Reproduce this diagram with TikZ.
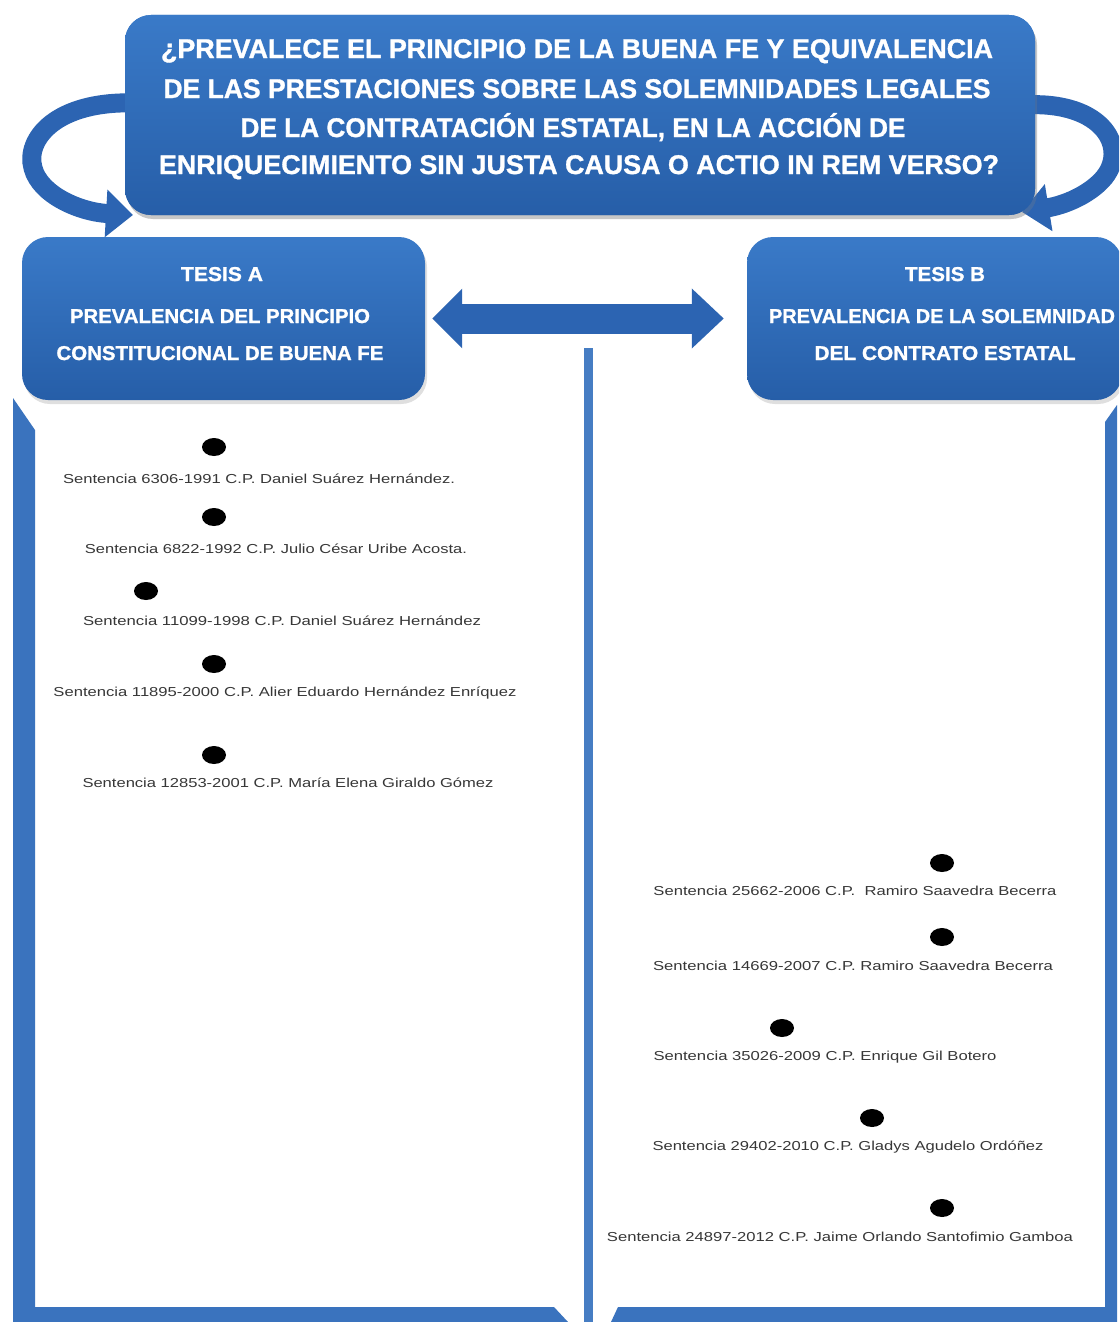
\documentclass[tikz,border=0pt]{standalone}
\usepackage{fontspec}
\setmainfont{Liberation Sans}[BoldFeatures={FakeBold=1.2}]
\usepackage{graphicx}
\usetikzlibrary{arrows.meta,shadows,shapes.geometric}
\definecolor{boxtop}{RGB}{58,122,200}
\definecolor{boxbot}{RGB}{38,94,168}
\definecolor{arrowblue}{RGB}{44,100,178}
\definecolor{lineblue}{RGB}{70,125,195}
\definecolor{stripeblue}{RGB}{58,115,190}
\definecolor{txtgray}{RGB}{55,55,55}
\newcommand{\fitw}[2]{\resizebox{#1}{\height}{#2}}
\begin{document}
\begin{tikzpicture}[x=1pt,y=-1pt,
  bluebox/.style={rectangle, rounded corners=26pt, top color=boxtop, bottom color=boxbot, draw=none,
    drop shadow={opacity=0.25,shadow xshift=2pt,shadow yshift=-4pt}},
  curvearr/.style={draw=arrowblue, line width=19pt, -{Triangle[width=46pt,length=27pt]}},
  dblarr/.style={draw=arrowblue, line width=30pt, {Triangle[width=58pt,length=30pt]}-{Triangle[width=58pt,length=32pt]}},
  midline/.style={draw=lineblue, line width=9pt},
  titletxt/.style={anchor=base, inner sep=0pt, text=white, font=\fontsize{27}{30}\selectfont\bfseries},
  tesistxt/.style={anchor=base, inner sep=0pt, text=white, font=\fontsize{20}{22}\selectfont\bfseries},
  sent/.style={anchor=base, inner sep=0pt, text=txtgray, font=\fontsize{13}{15}\selectfont},
  dot/.style={ellipse, fill=black, minimum width=24pt, minimum height=18pt, inner sep=0pt}]
\path[use as bounding box] (0,0) rectangle (1119,1322);
\clip (0,0) rectangle (1119,1322);
\fill[white] (0,0) rectangle (1119,1322);

% panel frames
\fill[stripeblue] (13,398) -- (35,430) -- (35,1307) -- (554,1307) -- (568,1322) -- (13,1322) -- cycle;
\fill[stripeblue] (611,1322) -- (618,1307) -- (1105,1307) -- (1105,422) -- (1117,405) -- (1117,1322) -- cycle;

% top question box (drawn under the arrows' start)
\node[bluebox, minimum width=910pt, minimum height=200pt] (q) at (580,115) {};

% curved arrows
\coordinate (tipL) at (133,215);
\coordinate (tipR) at (1022,212);
\draw[curvearr] ([shift={(12,-12)}]q.west) .. controls (55,100) and (25,140) .. (33,168) .. controls (40,195) and (80,212) .. (tipL);
\draw[curvearr] ([shift={(-12,-10)}]q.east) .. controls (1105,100) and (1130,150) .. (1102,180) .. controls (1088,195) and (1065,205) .. (tipR);
\node[bluebox, minimum width=910pt, minimum height=200pt] (q2) at (580,115) {};

\node[titletxt] (qt1) at (577,58) {\fitw{832pt}{¿PREVALECE EL PRINCIPIO DE LA BUENA FE Y EQUIVALENCIA}};
\node[titletxt] (qt2) at (577,98) {\fitw{827pt}{DE LAS PRESTACIONES SOBRE LAS SOLEMNIDADES LEGALES}};
\node[titletxt] (qt3) at (573,137) {\fitw{665pt}{DE LA CONTRATACIÓN ESTATAL, EN LA ACCIÓN DE}};
\node[titletxt] (qt4) at (579,174) {\fitw{840pt}{ENRIQUECIMIENTO SIN JUSTA CAUSA O ACTIO IN REM VERSO?}};

% thesis boxes
\node[bluebox, minimum width=403pt, minimum height=163pt] (tA) at (223.5,318.5) {};
\node[bluebox, minimum width=375pt, minimum height=163pt] (tB) at (934.5,318.5) {};

\node[tesistxt] (tA1) at (222,281) {\fitw{82pt}{TESIS A}};
\node[tesistxt] (tA2) at (220,323) {\fitw{300pt}{PREVALENCIA DEL PRINCIPIO}};
\node[tesistxt] (tA3) at (220,360) {\fitw{327pt}{CONSTITUCIONAL DE BUENA FE}};
\node[tesistxt] (tB1) at (945,281) {\fitw{80pt}{TESIS B}};
\node[tesistxt] (tB2) at (942,323) {\fitw{346pt}{PREVALENCIA DE LA SOLEMNIDAD}};
\node[tesistxt] (tB3) at (945,360) {\fitw{261pt}{DEL CONTRATO ESTATAL}};

% double arrow
\draw[dblarr] ([xshift=7pt]tA.east) -- ([xshift=-23pt]tB.west);

% middle line
\coordinate (mtop) at (588,348);
\coordinate (mbot) at (588,1322);
\draw[midline] (mtop) -- (mbot);

% left list
\node[dot] (dA1) at (214,447) {};
\node[sent] (sA1) at (259,483) {\fitw{392pt}{Sentencia 6306-1991 C.P. Daniel Suárez Hernández.}};
\node[dot] (dA2) at (214,517) {};
\node[sent] (sA2) at (276,553) {\fitw{382pt}{Sentencia 6822-1992 C.P. Julio César Uribe Acosta.}};
\node[dot] (dA3) at (146,591) {};
\node[sent] (sA3) at (282,625) {\fitw{398pt}{Sentencia 11099-1998 C.P. Daniel Suárez Hernández}};
\node[dot] (dA4) at (214,664) {};
\node[sent] (sA4) at (285,696) {\fitw{463pt}{Sentencia 11895-2000 C.P. Alier Eduardo Hernández Enríquez}};
\node[dot] (dA5) at (214,755) {};
\node[sent] (sA5) at (288,787) {\fitw{411pt}{Sentencia 12853-2001 C.P. María Elena Giraldo Gómez}};

% right list
\node[dot] (dB1) at (942,863) {};
\node[sent] (sB1) at (855,895) {\fitw{403pt}{Sentencia 25662-2006 C.P.\ \ Ramiro Saavedra Becerra}};
\node[dot] (dB2) at (942,937) {};
\node[sent] (sB2) at (853,970) {\fitw{400pt}{Sentencia 14669-2007 C.P. Ramiro Saavedra Becerra}};
\node[dot] (dB3) at (782,1028) {};
\node[sent] (sB3) at (825,1060) {\fitw{343pt}{Sentencia 35026-2009 C.P. Enrique Gil Botero}};
\node[dot] (dB4) at (872,1118) {};
\node[sent] (sB4) at (848,1150) {\fitw{391pt}{Sentencia 29402-2010 C.P. Gladys Agudelo Ordóñez}};
\node[dot] (dB5) at (942,1208) {};
\node[sent] (sB5) at (840,1241) {\fitw{466pt}{Sentencia 24897-2012 C.P. Jaime Orlando Santofimio Gamboa}};
\end{tikzpicture}
\end{document}
